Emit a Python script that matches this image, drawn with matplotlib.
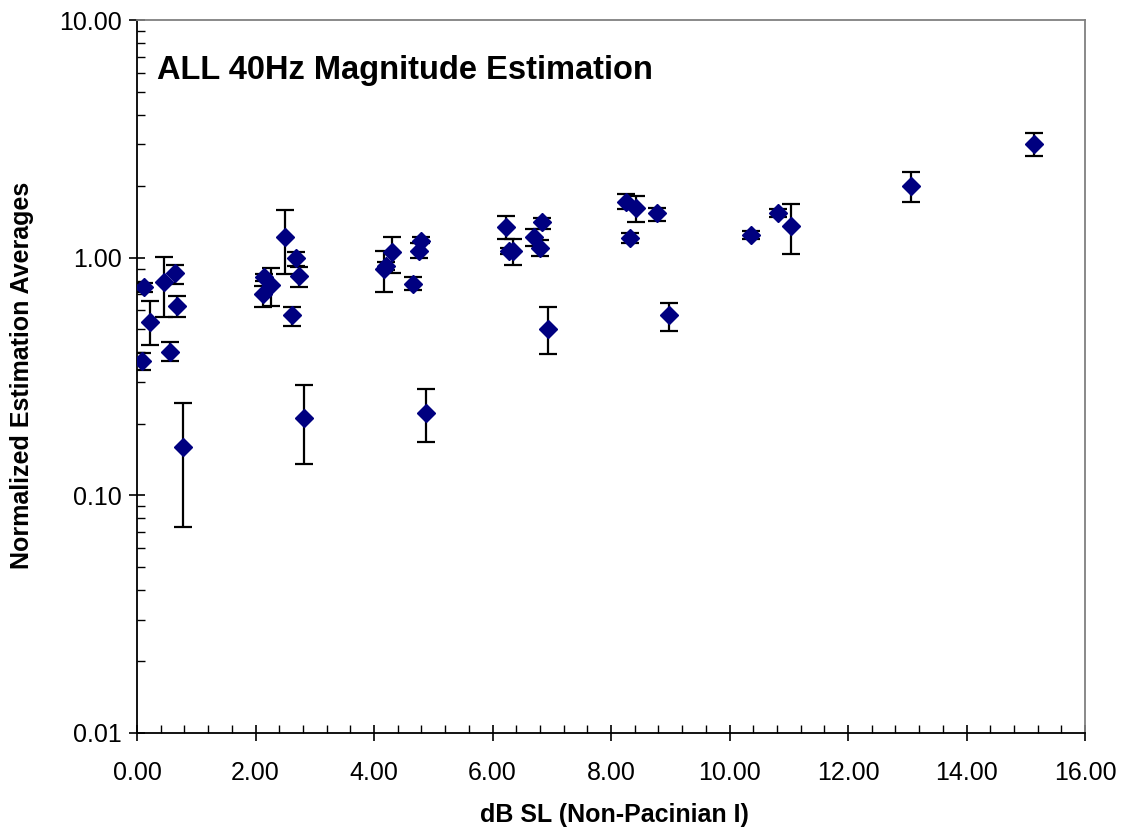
import matplotlib
matplotlib.use("Agg")
import matplotlib.pyplot as plt
import numpy as np
from matplotlib.ticker import FixedLocator, FormatStrFormatter, LogLocator, NullFormatter, MultipleLocator

plt.rcParams['font.family'] = ['Liberation Sans', 'DejaVu Sans']

db_sl = [0.08, 0.11, 0.22, 0.46, 0.56, 0.64, 0.67, 0.77,
         2.13, 2.15, 2.27, 2.50, 2.61, 2.68, 2.74, 2.82,
         4.17, 4.21, 4.31, 4.65, 4.76, 4.79, 4.87,
         6.22, 6.28, 6.35, 6.70, 6.83, 6.80, 6.94,
         8.26, 8.32, 8.43, 8.77, 8.98,
         10.37, 10.82, 11.03, 13.07, 15.14]
avg = [0.367, 0.755, 0.538, 0.792, 0.402, 0.865, 0.627, 0.159,
       0.701, 0.827, 0.765, 1.225, 0.574, 0.994, 0.837, 0.212,
       0.893, 0.923, 1.053, 0.775, 1.07, 1.179, 0.223,
       1.35, 1.07, 1.07, 1.225, 1.41, 1.10, 0.50,
       1.72, 1.21, 1.615, 1.546, 0.574,
       1.246, 1.546, 1.363, 2.00, 3.02]
low = [0.336, 0.72, 0.428, 0.565, 0.369, 0.778, 0.565, 0.0734,
       0.618, 0.80, 0.627, 0.851, 0.516, 0.925, 0.755, 0.136,
       0.72, 0.89, 0.865, 0.731, 0.994, 1.149, 0.167,
       1.195, 1.04, 0.931, 1.12, 1.325, 1.02, 0.392,
       1.60, 1.156, 1.41, 1.43, 0.491,
       1.20, 1.48, 1.04, 1.72, 2.67]
high = [0.398, 0.78, 0.658, 1.01, 0.441, 0.934, 0.687, 0.244,
        0.762, 0.85, 0.905, 1.587, 0.618, 1.053, 0.916, 0.292,
        1.07, 0.96, 1.225, 0.827, 1.15, 1.225, 0.279,
        1.497, 1.10, 1.195, 1.325, 1.47, 1.19, 0.618,
        1.85, 1.27, 1.82, 1.62, 0.646,
        1.30, 1.60, 1.69, 2.29, 3.36]

x_ticks = [0, 2, 4, 6, 8, 10, 12, 14, 16]
y_ticks = [0.01, 0.1, 1, 10]

fig = plt.figure(figsize=(11.25, 8.32), dpi=100)
ax = fig.add_axes([137/1125, 1-733/832, (1085-137)/1125, (733-20)/832])

a = np.array(avg)
yerr = np.vstack([a - np.array(low), np.array(high) - a])
ax.errorbar(db_sl, avg, yerr=yerr, fmt='none', ecolor='black', elinewidth=1.6,
            capsize=6.5, capthick=1.6, zorder=2)
ax.plot(db_sl, avg, linestyle='none', marker='D', markersize=9,
        color='#000080', markeredgecolor='#000080', zorder=3)

ax.set_yscale('log')
ax.set_xlim(0, 16)
ax.set_ylim(0.01, 10)
ax.xaxis.set_major_locator(FixedLocator(x_ticks))
ax.xaxis.set_major_formatter(FormatStrFormatter('%.2f'))
ax.xaxis.set_minor_locator(MultipleLocator(0.4))
ax.yaxis.set_major_locator(FixedLocator(y_ticks))
ax.yaxis.set_major_formatter(FormatStrFormatter('%.2f'))
ax.yaxis.set_minor_locator(LogLocator(base=10, subs=np.arange(2, 10)))
ax.yaxis.set_minor_formatter(NullFormatter())

ax.tick_params(which='major', direction='inout', length=12, width=1.2,
               labelsize=18, colors='black')
ax.tick_params(axis='x', which='major', pad=14)
ax.tick_params(axis='y', which='major', pad=5)
ax.tick_params(which='minor', direction='in', length=6, width=1.0)

for s in ['left', 'bottom']:
    ax.spines[s].set_color('black')
    ax.spines[s].set_linewidth(1.3)
for s in ['top', 'right']:
    ax.spines[s].set_color('#808080')
    ax.spines[s].set_linewidth(1.3)

ax.set_xlabel('dB SL (Non-Pacinian I)', fontsize=18, fontweight='bold', va='center')
ax.xaxis.set_label_coords((614-137)/948, (733-815)/713)
ax.set_ylabel('Normalized Estimation Averages', fontsize=18, fontweight='bold', va='center')
ax.yaxis.set_label_coords((22-137)/948, (733-375)/713)

ax.text(157/1125, 1-70/832, 'ALL 40Hz Magnitude Estimation', transform=fig.transFigure,
        fontsize=23.5, fontweight='bold', va='center', ha='left')

fig.savefig('out.png', dpi=100)
